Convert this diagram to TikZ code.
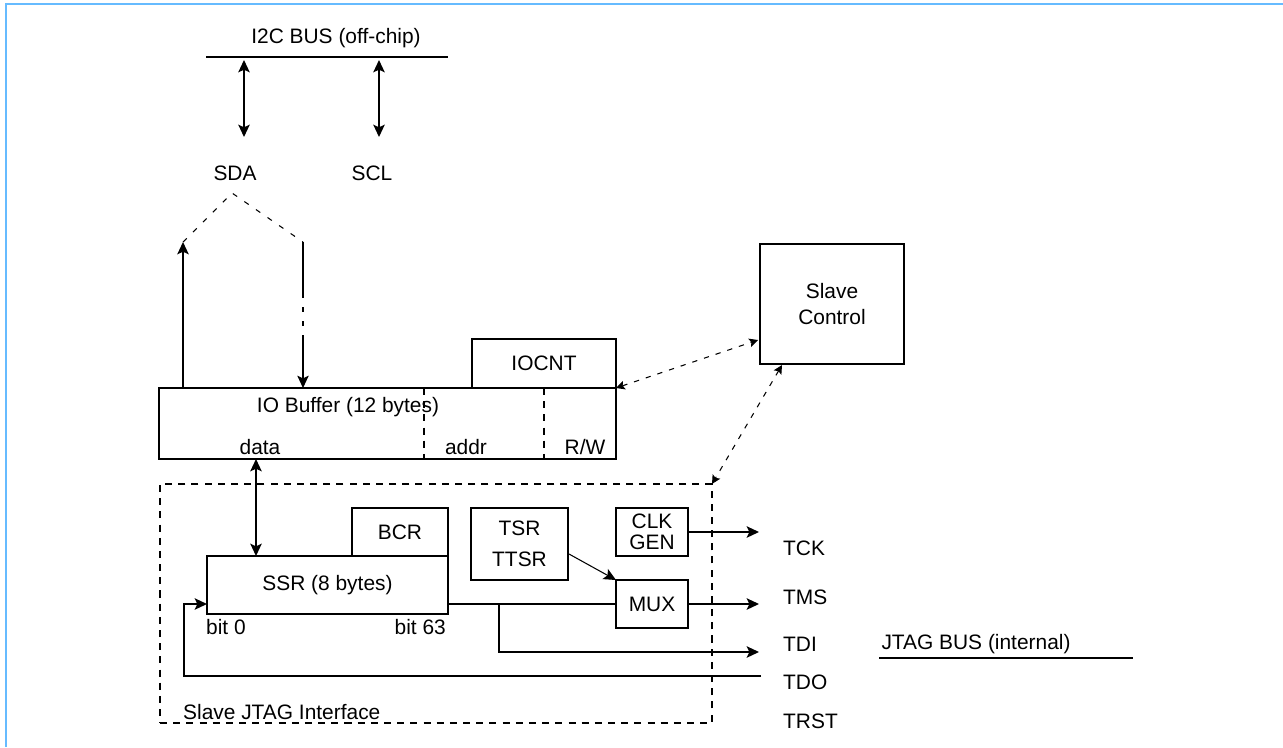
\documentclass[tikz,border=0pt]{standalone}
\usepackage{fontspec}
\setmainfont{Liberation Sans}
\usetikzlibrary{arrows.meta}
\newlength\pxlen
\setlength\pxlen{0.02cm}
\definecolor{frameblue}{HTML}{66BBFF}

\begin{document}
\begin{tikzpicture}[x=0.02cm,y=-0.02cm,
  font=\fontsize{11.9}{15}\selectfont,
  box/.style={draw,line width=1.1pt,inner sep=0pt,outer sep=0pt,align=center},
  wire/.style={line width=1.1pt},
  sig/.style={wire,-{Stealth[length=7pt,width=6.5pt,inset=1.5pt]}},
  bisig/.style={wire,{Stealth[length=7pt,width=6.5pt,inset=1.5pt]}-{Stealth[length=7pt,width=6.5pt,inset=1.5pt]}},
  thinsig/.style={line width=0.6pt,-{Stealth[length=7pt,width=6.5pt,inset=1.5pt]}},
  dotsig/.style={line width=0.6pt,dash pattern=on 3pt off 4pt,{Stealth[length=5pt,width=5pt,inset=1pt]}-{Stealth[length=5pt,width=5pt,inset=1pt]}},
  faint/.style={line width=0.6pt,dash pattern=on 3pt off 5pt},
  divider/.style={line width=1.1pt,dash pattern=on 4pt off 3.5pt}]
\useasboundingbox (0,0) rectangle (1283,747);
\draw[frameblue,line width=1.1pt] (5.8,747) -- (5.8,4.2) -- (1283,4.2);

% off-chip bus
\coordinate (busL) at (206,57);
\coordinate (busR) at (448,57);
\draw[wire] (busL) -- (busR);
\node (I2C) at (336,38) {I2C BUS (off-chip)};
\node (SDA) at (235,173) {SDA};
\node (SCL) at (372,173) {SCL};
\coordinate (sdaT) at (244,60);
\coordinate (sdaB) at (244,137);
\coordinate (sclT) at (379,60);
\coordinate (sclB) at (379,137);
\draw[bisig] (sdaT) -- (sdaB);
\draw[bisig] (sclT) -- (sclB);

% SDA split
\coordinate (fork) at (232,193);
\coordinate (upT) at (183,242);
\coordinate (dnT) at (303,242);
\coordinate (dnM) at (303,293);
\coordinate (dnN) at (303,340);
\draw[faint] (upT) -- (fork) -- (dnT);

% IO buffer
\node[box,minimum width=457*\pxlen,minimum height=71*\pxlen] (IOB) at (387.5,423.5) {};
\node[box,minimum width=144*\pxlen,minimum height=49*\pxlen] (IOCNT) at (544,363.5) {IOCNT};
\node (iobtxt) at (348,407) {IO Buffer (12 bytes)};
\node (data) at (260,447) {data};
\node (addr) at (466,447) {addr};
\node (rw) at (585,447) {R/W};
\coordinate (divA) at (424,388);
\coordinate (divB) at (544,388);
\draw[divider] (divA) -- (divA |- IOB.south);
\draw[divider] (divB) -- (divB |- IOB.south);
\draw[sig] (upT |- IOB.north) -- (upT);
\draw[wire] (dnT) -- (dnM);
\draw[faint] (dnM) -- (dnN);
\draw[thinsig] (dnN) -- (dnT |- IOB.north);

% slave control
\node[box,minimum width=144*\pxlen,minimum height=120*\pxlen] (SC) at (832,304) {Slave\\Control};
\coordinate (scA) at (758,340);
\coordinate (scB) at (782,365);
\draw[dotsig] (IOCNT.south east) -- (scA);

% JTAG interface
\node[draw,line width=1.1pt,dash pattern=on 4pt off 3.5pt,inner sep=0pt,outer sep=0pt,
  minimum width=552*\pxlen,minimum height=239*\pxlen] (JTAG) at (436,603.5) {};
\node[anchor=west] (jtagtxt) at (177,712) {Slave JTAG Interface};
\draw[dotsig] (scB) -- (JTAG.north east);

\node[box,minimum width=241*\pxlen,minimum height=58*\pxlen] (SSR) at (327.5,585) {SSR (8 bytes)};
\node[box,minimum width=96*\pxlen,minimum height=48*\pxlen] (BCR) at (400,532) {BCR};
\node[box,minimum width=97*\pxlen,minimum height=72*\pxlen,font=\fontsize{11.9}{17.5}\selectfont] (TSR) at (519.5,544) {TSR\\TTSR};
\node[box,minimum width=72*\pxlen,minimum height=48*\pxlen,font=\fontsize{11.9}{12}\selectfont] (CLK) at (652,532) {CLK\\GEN};
\node[box,minimum width=72*\pxlen,minimum height=48*\pxlen] (MUX) at (652,604) {MUX};
\node[anchor=west] (bit0) at (200,627) {bit 0};
\node[anchor=east] (bit63) at (452,627) {bit 63};

\coordinate (dtop) at (256,459);
\draw[bisig] (dtop) -- (dtop |- SSR.north);
\coordinate (tsrOut) at (569,554);
\draw[thinsig] (tsrOut) -- (MUX.north west);

% JTAG bus lines
\coordinate (tck) at (759,532);
\coordinate (tms) at (759,604);
\coordinate (tdi) at (759,652);
\coordinate (tdo) at (761,676);
\coordinate (br) at (499,604);
\coordinate (loopc) at (184,604);
\draw[sig] (CLK.east) -- (tck);
\draw[sig] (MUX.east) -- (tms);
\draw[wire] (SSR.east |- MUX.west) -- (MUX.west);
\draw[sig] (br) |- (tdi);
\draw[sig] (tdo) -| (loopc) -- (loopc -| SSR.west);

\node[anchor=west] (TCK) at (777,548) {TCK};
\node[anchor=west] (TMS) at (777,597) {TMS};
\node[anchor=west] (TDI) at (777,644) {TDI};
\node[anchor=west] (TDO) at (777,682) {TDO};
\node[anchor=west] (TRST) at (777,721) {TRST};

\node (jbus) at (976,644) {JTAG BUS (internal)};
\coordinate (jbusL) at (879,658);
\coordinate (jbusR) at (1133,658);
\draw[wire] (jbusL) -- (jbusR);
\end{tikzpicture}
\end{document}
